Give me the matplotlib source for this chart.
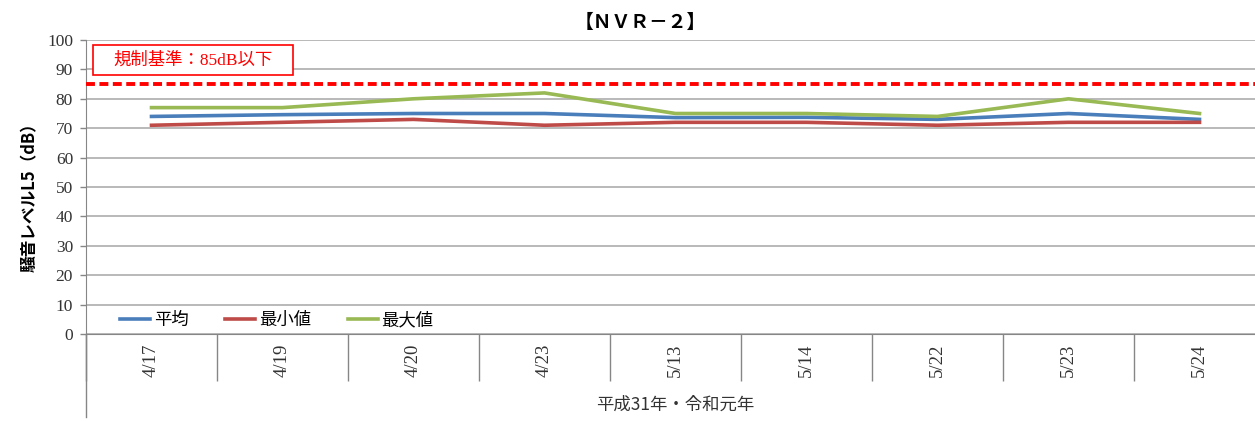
import matplotlib
matplotlib.use('Agg')
import matplotlib.pyplot as plt
from matplotlib.patches import Rectangle

# ---- data ----
dates = ['4/17', '4/19', '4/20', '4/23', '5/13', '5/14', '5/22', '5/23', '5/24']
avg_vals = [74, 74.6, 75, 75, 73.6, 73.7, 73, 75, 73]
min_vals = [71, 72, 73, 71, 72, 72, 71, 72, 72]
max_vals = [77, 77, 80, 82, 75, 75, 74, 80, 75]
limit_val = 85
series_names = ['平均', '最小値', '最大値']
yticks = list(range(0, 101, 10))
title = '【ＮＶＲ－２】'
ylabel = '騒音レベルL5（dB）'
xlabel = '平成31年・令和元年'
limit_label = '規制基準：85dB以下'

SERIF = ['Liberation Serif', 'Noto Sans CJK JP', 'DejaVu Sans']
JP = ['Noto Sans CJK JP', 'DejaVu Sans']
plt.rcParams['font.family'] = SERIF

W, H = 1255, 421
fig = plt.figure(figsize=(W / 100, H / 100), dpi=100)
ax = fig.add_axes([86 / W, 1 - 334 / H, (1265 - 86) / W, (334 - 40) / H])

x = list(range(len(dates)))
colors = ['#4A7EBB', '#BE4B48', '#98B954']
for vals, c, name in zip([avg_vals, min_vals, max_vals], colors, series_names):
    ax.plot(x, vals, color=c, lw=2.6, label=name, zorder=3, solid_joinstyle='round')

ax.axhline(limit_val, color='#FF0000', lw=2.8, dashes=(2.3, 1.15), zorder=4)

ax.set_xlim(-0.5, len(dates) - 0.5)
ax.set_ylim(0, 100)
ax.set_yticks(yticks)
ax.yaxis.grid(True, color='#A6A6A6', lw=1.1, zorder=0)
ax.set_axisbelow(True)
ax.tick_params(axis='y', length=4.3, width=1, color='#868686', pad=5, labelsize=12.5, labelcolor='#333333')

# category boundaries as major ticks, labels as minor ticks
ax.set_xticks([i - 0.5 for i in range(len(dates) + 1)])
ax.set_xticklabels([])
ax.set_xticks(x, minor=True)
ax.set_xticklabels(dates, minor=True, rotation=90, fontsize=13.5, color='#333333')
ax.tick_params(axis='x', which='major', length=33.8, width=1, color='#868686')
ax.tick_params(axis='x', which='minor', length=0, pad=7)

for s in ['top', 'right']:
    ax.spines[s].set_visible(False)
ax.spines['left'].set_color('#868686')
ax.spines['bottom'].set_color('#868686')
ax.plot([0, 0], [0, -(417 - 334) / 294], transform=ax.transAxes, clip_on=False,
        color='#868686', lw=1)

leg = ax.legend(loc='center left', bbox_to_anchor=((120 - 86) / 1179, 14 / 294),
                ncol=3, frameon=False, borderpad=0, borderaxespad=0,
                handlelength=1.75, handletextpad=0.2, columnspacing=2.1,
                prop={'family': JP, 'size': 12.5})

ax.text(0.5, -(405 - 334) / 294, xlabel, transform=ax.transAxes, ha='center', va='center',
        fontsize=12.5, family=JP, color='#333333')

fig.text(640 / W, 1 - 22 / H, title, ha='center', va='center', fontsize=13.5,
         fontweight='bold', family=JP)
fig.text(30 / W, 1 - 193 / H, ylabel, rotation=90, ha='center', va='center',
         fontsize=12, fontweight='bold', family=JP)

fig.add_artist(Rectangle((93 / W, 1 - 75 / H), 200 / W, 30 / H, transform=fig.transFigure,
                         facecolor='white', edgecolor='#FF0000', lw=1.2, zorder=5))
fig.text(193 / W, 1 - 60 / H, limit_label, ha='center', va='center', color='#FF0000',
         fontsize=12.5, family=SERIF, zorder=6)

fig.savefig('out.png', dpi=100)
